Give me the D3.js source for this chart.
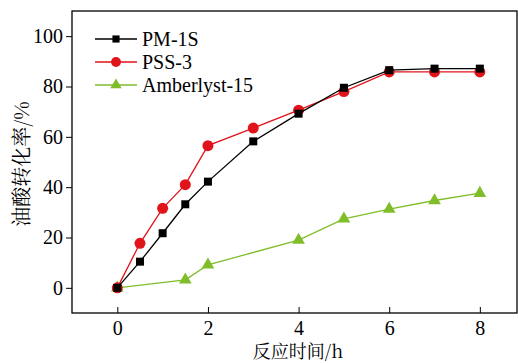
<!DOCTYPE html>
<html>
<head>
<meta charset="utf-8">
<script src="https://cdn.jsdelivr.net/npm/d3@7"></script>
<style>
  body { margin: 0; background: #fff; }
</style>
</head>
<body>
<div id="chart"></div>
<script>
// data
const seriesNames = ["PM-1S", "PSS-3", "Amberlyst-15"];
const timePM = [0, 0.5, 1, 1.5, 2, 3, 4, 5, 6, 7, 8];
const convPM = [0, 10.4, 21.7, 33.2, 42.2, 58.2, 69.2, 79.5, 86.5, 87.1, 87.1];
const timePSS = [0, 0.5, 1, 1.5, 2, 3, 4, 5, 6, 7, 8];
const convPSS = [0, 17.7, 31.6, 41, 56.5, 63.5, 70.6, 78, 85.8, 85.8, 85.8];
const timeAmb = [0, 1.5, 2, 4, 5, 6, 7, 8];
const convAmb = [0, 3.2, 9.1, 19, 27.4, 31.3, 34.7, 37.6];
const xTicks = [0, 2, 4, 6, 8];
const yTicks = [0, 20, 40, 60, 80, 100];

const width = 518, height = 363;
const mLeft = 72, mRight = 517, mTop = 11, mBottom = 313;
const serif = "Liberation Serif";
const cjk = "Noto Serif CJK SC";

const svg = d3.select("#chart").append("svg")
  .attr("width", width).attr("height", height);

const x = d3.scaleLinear().domain([-1, 8.82]).range([mLeft, mRight]);
const y = d3.scaleLinear().domain([-10, 110]).range([mBottom, mTop]);

// frame
svg.append("rect")
  .attr("x", mLeft).attr("y", mTop)
  .attr("width", mRight - mLeft).attr("height", mBottom - mTop)
  .attr("fill", "none").attr("stroke", "#000").attr("stroke-width", 1.3);

// x axis, ticks inward
const xAxis = svg.append("g")
  .attr("transform", "translate(0," + mBottom + ")")
  .call(d3.axisBottom(x).tickValues(xTicks).tickSizeInner(-6).tickSizeOuter(0).tickPadding(8));
xAxis.select(".domain").remove();
xAxis.selectAll("text").attr("dy", "0.71em");

// y axis, ticks outward
const yAxis = svg.append("g")
  .attr("transform", "translate(" + mLeft + ",0)")
  .call(d3.axisLeft(y).tickValues(yTicks).tickSize(6).tickSizeOuter(0).tickPadding(3));
yAxis.select(".domain").remove();

svg.selectAll(".tick line").attr("stroke", "#000").attr("stroke-width", 1);
svg.selectAll(".tick text")
  .attr("fill", "#000")
  .attr("font-family", serif)
  .attr("font-size", 20);

// axis labels
svg.append("text")
  .attr("x", 298).attr("y", 358)
  .attr("text-anchor", "middle")
  .attr("font-family", cjk)
  .attr("font-size", 18)
  .text("反应时间/h");

svg.append("text")
  .attr("transform", "translate(29,164) rotate(-90)")
  .attr("text-anchor", "middle")
  .attr("font-family", cjk)
  .attr("font-size", 20)
  .text("油酸转化率/%");

const series = [
  { name: seriesNames[0], t: timePM, v: convPM, color: "#000000", shape: d3.symbolSquare, size: 64 },
  { name: seriesNames[1], t: timePSS, v: convPSS, color: "#e1141c", shape: d3.symbolCircle, size: 95 },
  { name: seriesNames[2], t: timeAmb, v: convAmb, color: "#80bd2a", shape: d3.symbolTriangle, size: 70 }
];

const line = d3.line().x(d => x(d[0])).y(d => y(d[1]));

// draw back to front so PM-1S sits on top like the reference
[2, 1, 0].forEach(i => {
  const s = series[i];
  const pts = s.t.map((t, j) => [t, s.v[j]]);
  svg.append("path")
    .datum(pts)
    .attr("d", line)
    .attr("fill", "none")
    .attr("stroke", s.color)
    .attr("stroke-width", 1.3);
  svg.selectAll(".m" + i)
    .data(pts)
    .enter()
    .append("path")
      .attr("d", d3.symbol().type(s.shape).size(s.size))
      .attr("transform", d => "translate(" + x(d[0]) + "," + y(d[1]) + ")")
      .attr("fill", s.color);
});

// legend
const legend = svg.append("g");
series.forEach((s, i) => {
  const ly = 39 + i * 23;
  legend.append("line")
    .attr("x1", 95).attr("x2", 137).attr("y1", ly).attr("y2", ly)
    .attr("stroke", s.color).attr("stroke-width", 1.3);
  legend.append("path")
    .attr("d", d3.symbol().type(s.shape).size(s.size * 0.8))
    .attr("transform", "translate(116," + ly + ")")
    .attr("fill", s.color);
  legend.append("text")
    .attr("x", 142).attr("y", ly)
    .attr("dy", "0.35em")
    .attr("font-family", serif)
    .attr("font-size", 20)
    .text(s.name);
});
</script>
</body>
</html>
